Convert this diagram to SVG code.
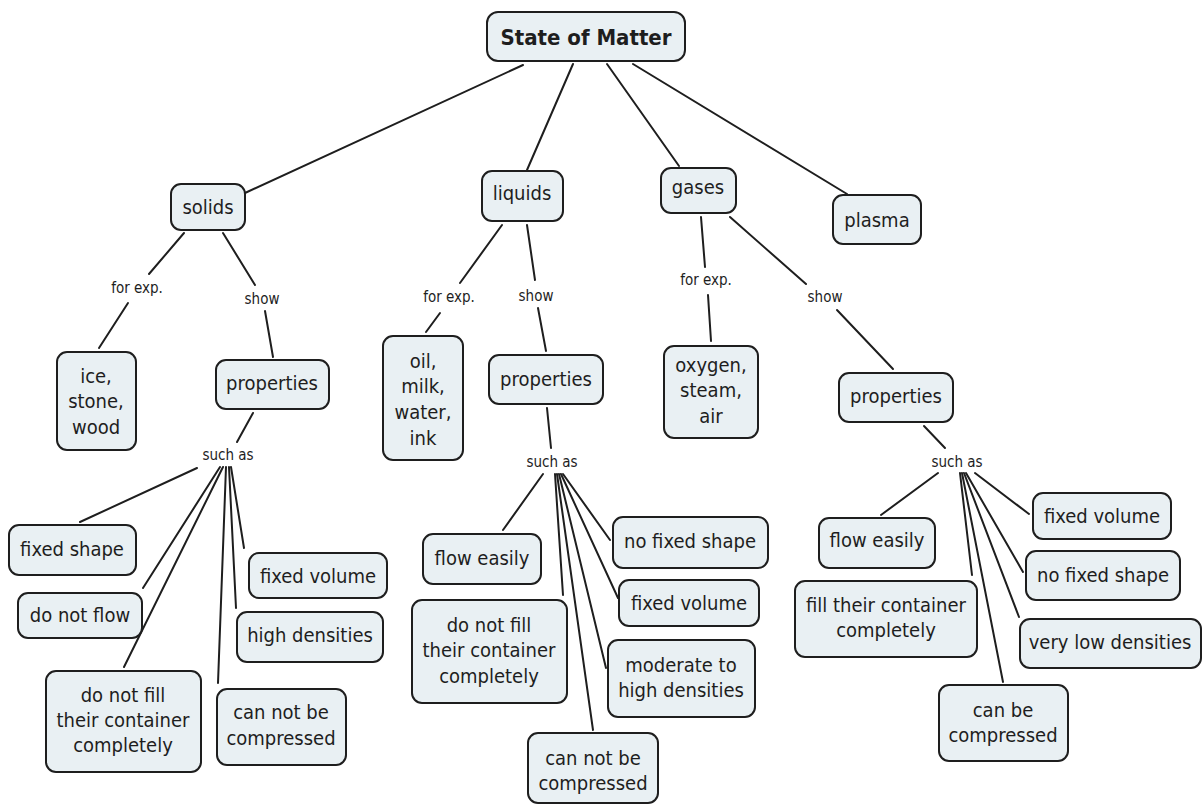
<svg xmlns="http://www.w3.org/2000/svg" width="1203" height="805" viewBox="0 0 1203 805">
<style>
.n rect{fill:#e9f0f3;stroke:#1e1e1e;stroke-width:2}
.n text{font-family:"DejaVu Sans Condensed","DejaVu Sans",sans-serif;font-stretch:condensed;font-size:20px;fill:#1e1e1e;text-anchor:middle}
.root text{font-weight:bold;font-size:22px}
.lbl{font-family:"DejaVu Sans Condensed","DejaVu Sans",sans-serif;font-stretch:condensed;font-size:15px;fill:#1e1e1e;text-anchor:middle}
#connectors line{stroke:#1e1e1e;stroke-width:2;stroke-linecap:round}
</style>
<rect width="1203" height="805" fill="#fff"/>
<g id="connectors">
<line x1="523" y1="65" x2="245" y2="193"/>
<line x1="573" y1="64" x2="527" y2="170"/>
<line x1="607" y1="64" x2="679" y2="166"/>
<line x1="633" y1="64" x2="847" y2="194"/>
<line x1="184" y1="233" x2="149" y2="274"/>
<line x1="128" y1="303" x2="99" y2="348"/>
<line x1="223" y1="233" x2="255" y2="285"/>
<line x1="265" y1="311" x2="273" y2="357"/>
<line x1="253" y1="413" x2="237" y2="442"/>
<line x1="197" y1="468" x2="80" y2="522"/>
<line x1="220" y1="467" x2="143" y2="588"/>
<line x1="223" y1="467" x2="124" y2="667"/>
<line x1="226" y1="467" x2="218" y2="683"/>
<line x1="229" y1="467" x2="236" y2="608"/>
<line x1="231" y1="467" x2="244" y2="548"/>
<line x1="502" y1="225" x2="460" y2="283"/>
<line x1="440" y1="313" x2="426" y2="332"/>
<line x1="527" y1="225" x2="535" y2="280"/>
<line x1="538" y1="308" x2="546" y2="351"/>
<line x1="547" y1="408" x2="551" y2="448"/>
<line x1="543" y1="474" x2="503" y2="530"/>
<line x1="555" y1="474" x2="563" y2="595"/>
<line x1="557" y1="474" x2="593" y2="730"/>
<line x1="559" y1="474" x2="606" y2="668"/>
<line x1="561" y1="474" x2="618" y2="598"/>
<line x1="563" y1="474" x2="610" y2="540"/>
<line x1="701" y1="217" x2="705" y2="267"/>
<line x1="708" y1="295" x2="711" y2="341"/>
<line x1="730" y1="217" x2="806" y2="284"/>
<line x1="837" y1="310" x2="893" y2="369"/>
<line x1="924" y1="426" x2="945" y2="448"/>
<line x1="938" y1="473" x2="881" y2="515"/>
<line x1="975" y1="473" x2="1029" y2="514"/>
<line x1="960" y1="473" x2="972" y2="575"/>
<line x1="962" y1="473" x2="1003" y2="682"/>
<line x1="964" y1="473" x2="1019" y2="617"/>
<line x1="966" y1="473" x2="1023" y2="572"/>
</g>
<g id="labels">
<text class="lbl" x="137" y="293">for exp.</text>
<text class="lbl" x="262" y="304">show</text>
<text class="lbl" x="228" y="460">such as</text>
<text class="lbl" x="449" y="302">for exp.</text>
<text class="lbl" x="536" y="301">show</text>
<text class="lbl" x="552" y="467">such as</text>
<text class="lbl" x="706" y="285">for exp.</text>
<text class="lbl" x="825" y="302">show</text>
<text class="lbl" x="957" y="467">such as</text>
</g>
<g id="root" class="n root"><rect x="487" y="12" width="198" height="49" rx="11"/><text x="586" y="45">State of Matter</text></g>
<g id="solids" class="n"><rect x="171" y="184" width="74" height="46" rx="10"/><text x="208" y="214">solids</text></g>
<g id="liquids" class="n"><rect x="482" y="171" width="81" height="50" rx="10"/><text x="522" y="200">liquids</text></g>
<g id="gases" class="n"><rect x="661" y="168" width="75" height="45" rx="10"/><text x="698" y="194">gases</text></g>
<g id="plasma" class="n"><rect x="833" y="195" width="88" height="49" rx="10"/><text x="877" y="227">plasma</text></g>
<g id="solids-ex" class="n"><rect x="57" y="352" width="79" height="98" rx="10"/><text x="96" y="383">ice,</text><text x="96" y="408">stone,</text><text x="96" y="434">wood</text></g>
<g id="solids-prop" class="n"><rect x="216" y="360" width="113" height="49" rx="10"/><text x="272" y="390">properties</text></g>
<g id="s-fixed-shape" class="n"><rect x="9" y="525" width="127" height="50" rx="10"/><text x="72" y="556">fixed shape</text></g>
<g id="s-no-flow" class="n"><rect x="18" y="593" width="124" height="45" rx="10"/><text x="80" y="622">do not flow</text></g>
<g id="s-fixed-volume" class="n"><rect x="249" y="553" width="138" height="45" rx="10"/><text x="318" y="583">fixed volume</text></g>
<g id="s-high-dens" class="n"><rect x="237" y="612" width="146" height="50" rx="10"/><text x="310" y="642">high densities</text></g>
<g id="s-not-fill" class="n"><rect x="46" y="671" width="155" height="101" rx="10"/><text x="123" y="702">do not fill</text><text x="123" y="727">their container</text><text x="123" y="752">completely</text></g>
<g id="s-not-comp" class="n"><rect x="217" y="689" width="129" height="76" rx="10"/><text x="281" y="719">can not be</text><text x="281" y="745">compressed</text></g>
<g id="liquids-ex" class="n"><rect x="383" y="336" width="80" height="124" rx="10"/><text x="423" y="368">oil,</text><text x="423" y="393">milk,</text><text x="423" y="419">water,</text><text x="423" y="445">ink</text></g>
<g id="liquids-prop" class="n"><rect x="489" y="355" width="114" height="49" rx="10"/><text x="546" y="386">properties</text></g>
<g id="l-flow" class="n"><rect x="423" y="534" width="118" height="50" rx="10"/><text x="482" y="565">flow easily</text></g>
<g id="l-not-fill" class="n"><rect x="412" y="600" width="155" height="103" rx="10"/><text x="489" y="632">do not fill</text><text x="489" y="657">their container</text><text x="489" y="683">completely</text></g>
<g id="l-no-shape" class="n"><rect x="613" y="517" width="155" height="51" rx="10"/><text x="690" y="548">no fixed shape</text></g>
<g id="l-fixed-volume" class="n"><rect x="619" y="580" width="140" height="46" rx="10"/><text x="689" y="610">fixed volume</text></g>
<g id="l-mod-dens" class="n"><rect x="608" y="640" width="147" height="77" rx="10"/><text x="681" y="672">moderate to</text><text x="681" y="697">high densities</text></g>
<g id="l-not-comp" class="n"><rect x="528" y="733" width="130" height="70" rx="10"/><text x="593" y="765">can not be</text><text x="593" y="790">compressed</text></g>
<g id="gases-ex" class="n"><rect x="664" y="346" width="94" height="92" rx="10"/><text x="711" y="372">oxygen,</text><text x="711" y="397">steam,</text><text x="711" y="423">air</text></g>
<g id="gases-prop" class="n"><rect x="839" y="373" width="114" height="49" rx="10"/><text x="896" y="403">properties</text></g>
<g id="g-fixed-volume" class="n"><rect x="1033" y="493" width="138" height="46" rx="10"/><text x="1102" y="523">fixed volume</text></g>
<g id="g-flow" class="n"><rect x="819" y="518" width="116" height="50" rx="10"/><text x="877" y="547">flow easily</text></g>
<g id="g-no-shape" class="n"><rect x="1026" y="551" width="154" height="49" rx="10"/><text x="1103" y="582">no fixed shape</text></g>
<g id="g-fill" class="n"><rect x="795" y="581" width="182" height="76" rx="10"/><text x="886" y="612">fill their container</text><text x="886" y="637">completely</text></g>
<g id="g-low-dens" class="n"><rect x="1020" y="619" width="181" height="49" rx="10"/><text x="1110" y="649">very low densities</text></g>
<g id="g-comp" class="n"><rect x="939" y="685" width="129" height="76" rx="10"/><text x="1003" y="717">can be</text><text x="1003" y="742">compressed</text></g>
</svg>
